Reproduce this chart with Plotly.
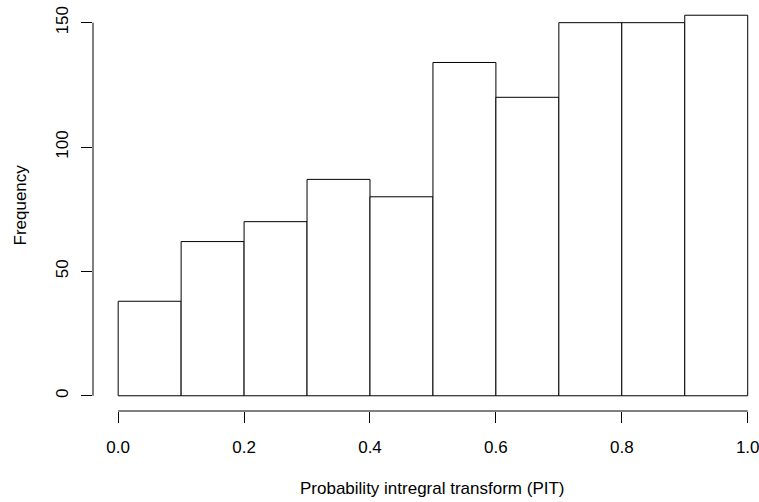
import plotly.graph_objects as go

# PIT histogram: bin edges 0.0 .. 1.0 in steps of 0.1
bin_left = [0.0, 0.1, 0.2, 0.3, 0.4, 0.5, 0.6, 0.7, 0.8, 0.9]
bin_width = 0.1
counts = [38, 62, 70, 87, 80, 134, 120, 150, 150, 153]

x_ticks = [0.0, 0.2, 0.4, 0.6, 0.8, 1.0]
x_tick_labels = ["0.0", "0.2", "0.4", "0.6", "0.8", "1.0"]
y_ticks = [0, 50, 100, 150]
y_tick_labels = ["0", "50", "100", "150"]

FONT = "Liberation Sans, Arial, sans-serif"
FS = 17
INK = "#000000"

centers = [b + bin_width / 2 for b in bin_left]

fig = go.Figure(
    go.Bar(
        x=centers,
        y=counts,
        width=bin_width,
        marker=dict(color="white", line=dict(color=INK, width=1)),
        hoverinfo="x+y",
    )
)

# R-style plot region: 4% padding around data range
ymax = max(counts)
y_lo, y_hi = -0.04 * ymax, ymax * 1.04
px_per_x = 630.0
x_lo = -0.04
x_hi = x_lo + (759 - 92.5) / px_per_x

fig.update_layout(
    width=759,
    height=502,
    margin=dict(l=92.5, r=0, t=0, b=90.8),
    paper_bgcolor="white",
    plot_bgcolor="white",
    showlegend=False,
    font=dict(family=FONT, size=FS, color=INK),
    xaxis=dict(
        range=[x_lo, x_hi],
        showgrid=False,
        zeroline=False,
        showline=False,
        ticks="outside",
        ticklen=11,
        tickwidth=1,
        tickcolor=INK,
        tickvals=x_ticks,
        ticktext=x_tick_labels,
        ticklabelstandoff=10,
        ticklabeloverflow="allow",
        tickfont=dict(family=FONT, size=FS, color=INK),
    ),
    yaxis=dict(
        range=[y_lo, y_hi],
        showgrid=False,
        zeroline=False,
        showline=False,
        ticks="outside",
        ticklen=11,
        tickwidth=1,
        tickcolor=INK,
        tickvals=y_ticks,
        ticktext=y_tick_labels,
        tickangle=-90,
        ticklabelstandoff=6,
        ticklabeloverflow="allow",
        tickfont=dict(family=FONT, size=FS, color=INK),
    ),
)

# Detached axis lines spanning first to last tick
fig.add_shape(type="line", xref="x", yref="paper",
              x0=x_ticks[0], x1=x_ticks[-1], y0=0, y1=0,
              line=dict(color=INK, width=1))
fig.add_shape(type="line", xref="paper", yref="y",
              x0=0, x1=0, y0=y_ticks[0], y1=y_ticks[-1],
              line=dict(color=INK, width=1))

# Axis titles
fig.add_annotation(text="Probability intregral transform (PIT)",
                   xref="x", yref="paper", x=(x_lo + 1.04) / 2, y=0,
                   xanchor="center", yanchor="middle",
                   yshift=-77, showarrow=False,
                   font=dict(family=FONT, size=FS, color=INK))
fig.add_annotation(text="Frequency", textangle=-90,
                   xref="paper", yref="y", x=0, y=(y_lo + y_hi) / 2,
                   xanchor="center", yanchor="middle",
                   xshift=-73, showarrow=False,
                   font=dict(family=FONT, size=FS, color=INK))

fig.write_html("out.html")
